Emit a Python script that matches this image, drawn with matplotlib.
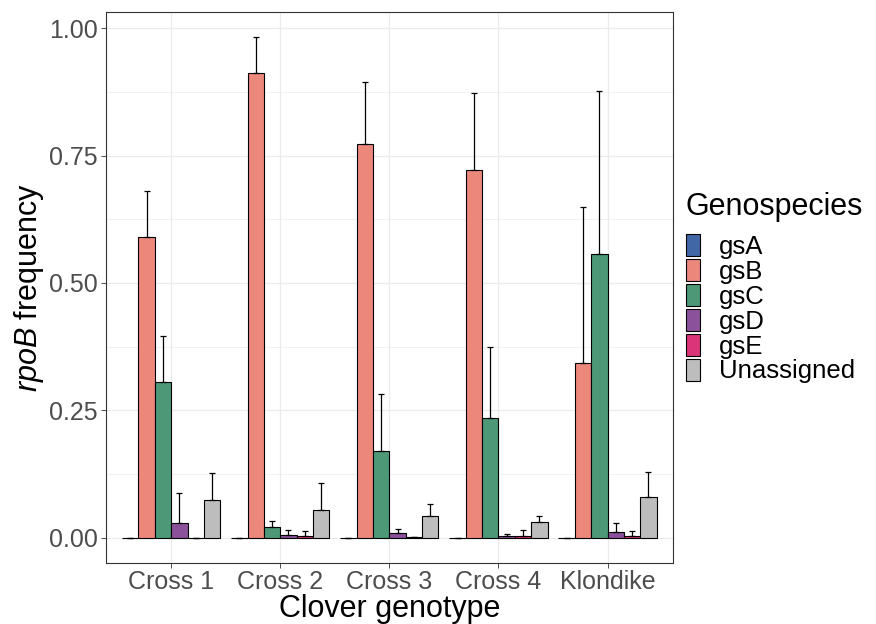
import numpy as np
import matplotlib
matplotlib.use('Agg')
import matplotlib.pyplot as plt
from matplotlib.ticker import MultipleLocator

plt.rcParams['font.family'] = ['Liberation Sans', 'DejaVu Sans']
plt.rcParams['mathtext.fontset'] = 'custom'
plt.rcParams['mathtext.it'] = 'Liberation Sans:italic'
plt.rcParams['mathtext.rm'] = 'Liberation Sans'

# --- data (mean and upper error) ---
genotypes = ['Cross 1', 'Cross 2', 'Cross 3', 'Cross 4', 'Klondike']
species = ['gsA', 'gsB', 'gsC', 'gsD', 'gsE', 'Unassigned']

gsA = [0.0, 0.0, 0.0, 0.0, 0.0]
gsB = [0.590, 0.911, 0.772, 0.722, 0.343]
gsC = [0.306, 0.022, 0.171, 0.235, 0.557]
gsD = [0.028, 0.006, 0.010, 0.004, 0.012]
gsE = [0.0, 0.004, 0.001, 0.003, 0.003]
unassigned = [0.075, 0.054, 0.043, 0.031, 0.080]

gsA_err = [0.0, 0.0, 0.0, 0.0, 0.0]
gsB_err = [0.091, 0.071, 0.122, 0.150, 0.306]
gsC_err = [0.089, 0.011, 0.112, 0.140, 0.320]
gsD_err = [0.059, 0.010, 0.007, 0.004, 0.017]
gsE_err = [0.0, 0.010, 0.0, 0.012, 0.010]
unassigned_err = [0.053, 0.054, 0.024, 0.012, 0.049]

colors = ['#4167A6', '#EB877B', '#4C9877', '#8C519B', '#DB3479', '#BDBDBD']

means = [gsA, gsB, gsC, gsD, gsE, unassigned]
errs = [gsA_err, gsB_err, gsC_err, gsD_err, gsE_err, unassigned_err]

fig = plt.figure(figsize=(8.76, 6.24), dpi=100)
ax = fig.add_axes([0.1207, 0.0982, 0.6476, 0.8821])

x = np.arange(1, len(genotypes) + 1)
bw = 0.15
handles = []
for i, (sp, m, e, c) in enumerate(zip(species, means, errs, colors)):
    xs = x - 0.45 + bw * (i + 0.5)
    h = ax.bar(xs, m, width=bw, color=c, edgecolor='black', linewidth=0.8,
               label=sp, zorder=2)
    handles.append(h)
    ax.errorbar(xs, m, yerr=[np.zeros(len(m)), e], fmt='none', ecolor='black',
                elinewidth=0.9, capsize=2, capthick=0.9, zorder=3)

ax.set_xlim(0.4, 5.6)
ax.set_xticks(x)
ax.set_xticklabels(genotypes)
ax.yaxis.set_minor_locator(MultipleLocator(0.125))
ax.set_ylim(-0.049, 1.031)
ax.set_yticks([0, 0.25, 0.5, 0.75, 1.0])
ax.set_yticklabels(['0.00', '0.25', '0.50', '0.75', '1.00'])

ax.set_axisbelow(True)
ax.grid(which='major', color='#EBEBEB', linewidth=0.9, zorder=0)
ax.grid(which='minor', axis='y', color='#EBEBEB', linewidth=0.5, zorder=0)
ax.tick_params(which='minor', length=0)
ax.tick_params(which='major', length=3.5, width=0.6, color='#333333',
               labelsize=18, labelcolor='#4D4D4D', pad=2)
for s in ax.spines.values():
    s.set_color('#333333')
    s.set_linewidth(0.8)

ax.set_xlabel('Clover genotype', fontsize=22, labelpad=0)
ax.set_ylabel(r'$\it{rpoB}$ frequency', fontsize=22, labelpad=2)

leg = ax.legend(handles=handles, title='Genospecies', loc='center left',
                bbox_to_anchor=(1.0, 0.5), frameon=False, fontsize=18.5,
                title_fontsize=22, labelspacing=0.0, handlelength=0.55,
                handleheight=0.95, handletextpad=0.75, borderaxespad=0.3,
                borderpad=0.2)
leg._legend_box.align = 'left'
leg._legend_box.sep = 9

fig.savefig('out.png', dpi=100)
